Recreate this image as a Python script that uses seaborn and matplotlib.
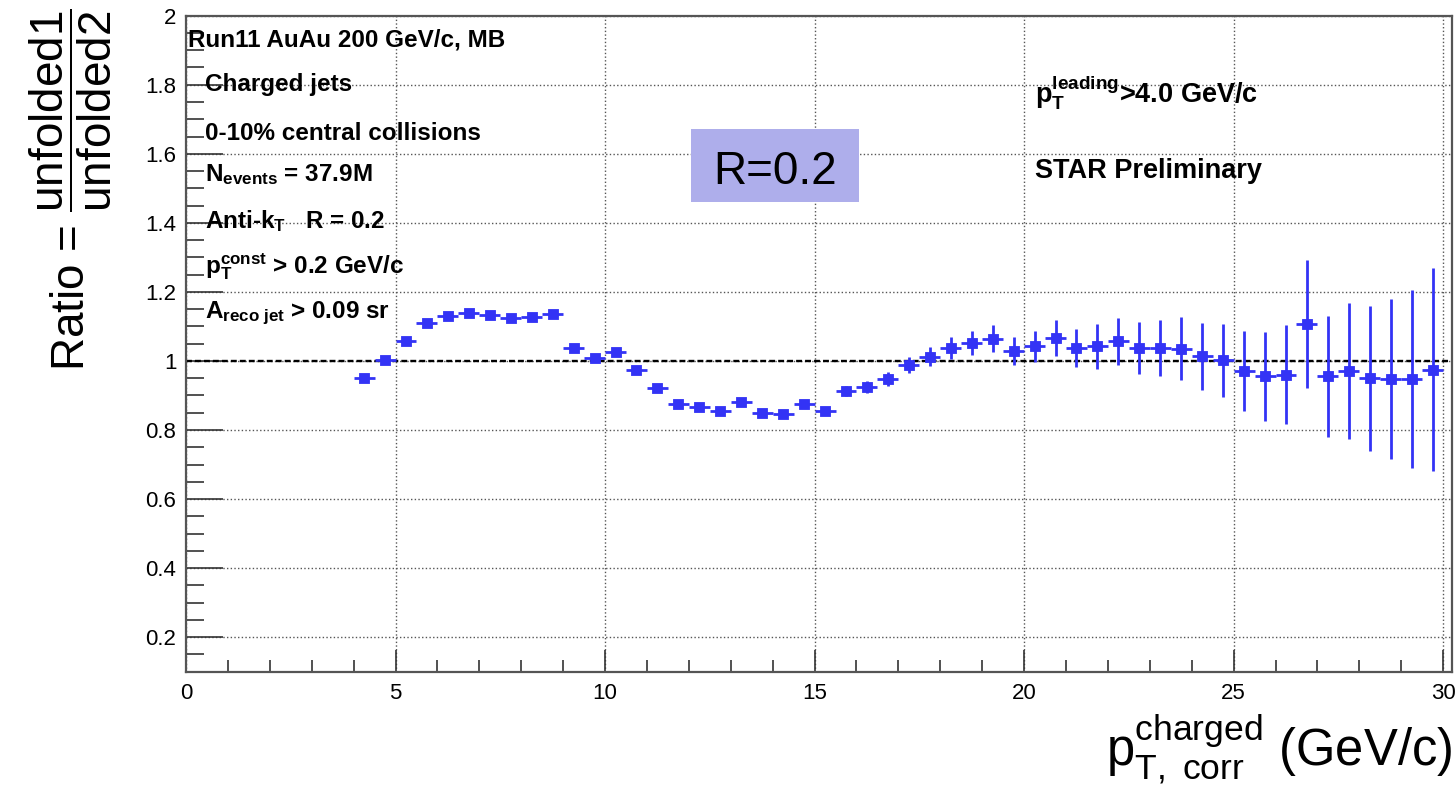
import numpy as np
import pandas as pd
import matplotlib
matplotlib.use("Agg")
import matplotlib.pyplot as plt
import seaborn as sns
from matplotlib.ticker import MultipleLocator, FuncFormatter
from matplotlib.patches import Rectangle

# Ratio of two unfolded charged-jet spectra, 0.5 GeV/c bins
pt_bin_centers = [4.25, 4.75, 5.25, 5.75, 6.25, 6.75, 7.25, 7.75, 8.25, 8.75,
                  9.25, 9.75, 10.25, 10.75, 11.25, 11.75, 12.25, 12.75, 13.25, 13.75,
                  14.25, 14.75, 15.25, 15.75, 16.25, 16.75, 17.25, 17.75, 18.25, 18.75,
                  19.25, 19.75, 20.25, 20.75, 21.25, 21.75, 22.25, 22.75, 23.25, 23.75,
                  24.25, 24.75, 25.25, 25.75, 26.25, 26.75, 27.25, 27.75, 28.25, 28.75,
                  29.25, 29.75]
bin_half_width = 0.25
ratio = [0.950, 1.002, 1.057, 1.110, 1.130, 1.139, 1.133, 1.124, 1.128, 1.136,
         1.038, 1.009, 1.026, 0.974, 0.922, 0.876, 0.866, 0.855, 0.881, 0.849,
         0.845, 0.875, 0.855, 0.913, 0.924, 0.948, 0.988, 1.012, 1.038, 1.052,
         1.064, 1.028, 1.043, 1.066, 1.038, 1.042, 1.057, 1.038, 1.038, 1.035,
         1.013, 1.002, 0.971, 0.956, 0.960, 1.107, 0.956, 0.971, 0.950, 0.947,
         0.947, 0.974]
ratio_err = [0.003, 0.003, 0.003, 0.003, 0.003, 0.004, 0.004, 0.004, 0.004, 0.005,
             0.005, 0.005, 0.006, 0.006, 0.006, 0.007, 0.007, 0.008, 0.008, 0.009,
             0.009, 0.010, 0.012, 0.014, 0.017, 0.020, 0.023, 0.027, 0.031, 0.034,
             0.039, 0.041, 0.045, 0.052, 0.056, 0.064, 0.068, 0.075, 0.082, 0.091,
             0.098, 0.106, 0.116, 0.129, 0.143, 0.184, 0.175, 0.196, 0.210, 0.232,
             0.258, 0.294]

left_labels = [
    "Run11 AuAu 200 GeV/c, MB",
    "Charged jets",
    "0-10% central collisions",
    r"N$_{\mathbf{events}}$ = 37.9M",
    r"Anti-k$_{\mathbf{T}}$   R = 0.2",
    r"p$_{\mathbf{T}}^{\mathbf{const}}$ > 0.2 GeV/c",
    r"A$_{\mathbf{reco\ jet}}$ > 0.09 sr",
]
right_labels = [
    r"p$_{\mathbf{T}}^{\mathbf{leading}}$>4.0 GeV/c",
    "STAR Preliminary",
]
radius_label = "R=0.2"

df = pd.DataFrame({"pt": pt_bin_centers, "ratio": ratio, "err": ratio_err})

sns.set_style("ticks")
plt.rcParams["font.family"] = ["Liberation Sans", "DejaVu Sans"]
plt.rcParams["mathtext.fontset"] = "custom"
plt.rcParams["mathtext.rm"] = "Liberation Sans"
plt.rcParams["mathtext.it"] = "Liberation Sans:italic"
plt.rcParams["mathtext.bf"] = "Liberation Sans:bold"
plt.rcParams["mathtext.sf"] = "Liberation Sans"
plt.rcParams["text.color"] = "black"
plt.rcParams["axes.labelcolor"] = "black"
plt.rcParams["xtick.color"] = "black"
plt.rcParams["ytick.color"] = "black"

W, H = 1455, 789
fig = plt.figure(figsize=(W / 100, H / 100), dpi=100)
fig.patch.set_facecolor("white")
ax = fig.add_axes([186 / W, 1 - 671.7 / H, (1451.5 - 186) / W, (671.7 - 15.7) / H])

blue = "#3333F5"
ax.errorbar(df["pt"], df["ratio"], xerr=bin_half_width, yerr=df["err"], fmt="none",
            ecolor=blue, elinewidth=2.0, capsize=0, zorder=3)
sns.scatterplot(data=df, x="pt", y="ratio", marker="s", s=55, color=blue,
                edgecolor=blue, linewidth=0.6, ax=ax, zorder=4, legend=False)

ax.axhline(1.0, color="black", ls=(0, (2.5, 1.3)), lw=1.7, zorder=2)

ax.set_xlim(0, 30.2)
ax.set_ylim(0.1, 2.0)
ax.xaxis.set_major_locator(MultipleLocator(5))
ax.xaxis.set_minor_locator(MultipleLocator(1))
ax.yaxis.set_major_locator(MultipleLocator(0.2))
ax.yaxis.set_minor_locator(MultipleLocator(0.05))
fmt = FuncFormatter(lambda v, p: f"{round(v, 2):g}")
ax.xaxis.set_major_formatter(fmt)
ax.yaxis.set_major_formatter(fmt)

ax.tick_params(which="both", direction="in", top=False, right=False,
               color="#333333", width=1.2, labelsize=16, labelcolor="black")
ax.tick_params(axis="y", which="major", length=26.5, pad=7)
ax.tick_params(axis="y", which="minor", length=13)
ax.tick_params(axis="x", which="major", length=16, pad=8)
ax.tick_params(axis="x", which="minor", length=8.6)

ax.grid(which="major", ls=":", color="#555555", lw=1.0, zorder=1)
for s in ax.spines.values():
    s.set_color("#555555")
    s.set_linewidth(1.6)
ax.set_xlabel("")
ax.set_ylabel("")

# Axis titles, ROOT style: aligned to the far ends of the axes
fig.text(1452 / W, 3 / H,
         r"$\mathrm{p}_{\mathrm{T,\ corr}}^{\mathrm{charged}}$ (GeV/c)",
         ha="right", va="bottom", fontsize=36.5, color="black")
fig.text(71 / W, 1 - 8 / H,
         r"Ratio = $\dfrac{\mathrm{unfolded1}}{\mathrm{unfolded2}}$",
         ha="center", va="top", rotation=90, fontsize=33, color="black")

# Run/selection information
left_pos = [(188, 46), (205, 91), (205, 140), (205, 181), (205, 228), (205, 273), (205, 318)]
for txt, (px, py) in zip(left_labels, left_pos):
    fig.text(px / W, 1 - py / H, txt, ha="left", va="baseline", color="black",
             fontsize=17.5, fontweight="bold", zorder=6)

right_pos = [(1035, 102), (1035, 178)]
for txt, (px, py) in zip(right_labels, right_pos):
    fig.text(px / W, 1 - py / H, txt, ha="left", va="baseline", color="black",
             fontsize=19.5, fontweight="bold", zorder=6)

# Jet radius tag
fig.add_artist(Rectangle((691 / W, 1 - 202 / H), 168 / W, 73 / H,
                         transform=fig.transFigure, facecolor="#AEAEEB",
                         edgecolor="none", zorder=5))
fig.text(775 / W, 1 - 184 / H, radius_label, ha="center", va="baseline",
         fontsize=33, color="black", zorder=6)

fig.savefig("out.png", dpi=100)
